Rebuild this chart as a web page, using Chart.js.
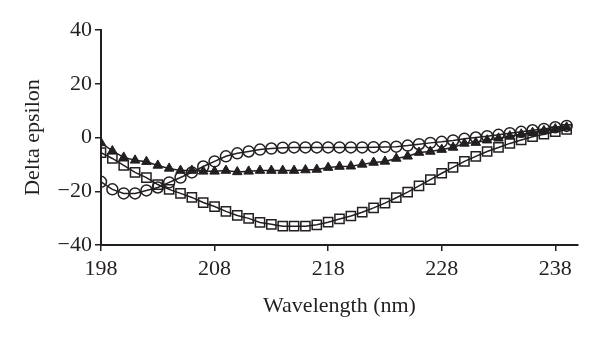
<!DOCTYPE html>
<html>
<head>
<meta charset="utf-8">
<script src="https://cdn.jsdelivr.net/npm/chart.js"></script>
<style>
  body { margin: 0; background: #fff; }
</style>
</head>
<body>
<canvas id="cdChart" width="600" height="343"></canvas>
<script>
// data
var wavelength = [198,199,200,201,202,203,204,205,206,207,208,209,210,211,212,213,214,215,216,217,218,
                  219,220,221,222,223,224,225,226,227,228,229,230,231,232,233,234,235,236,237,238,239];

var circles = [-16.5,-19.3,-20.8,-20.8,-19.7,-18.6,-16.7,-14.9,-13,-10.8,-8.9,-7,-5.9,-5.2,-4.5,-4.1,-3.8,-3.7,-3.7,-3.7,-3.7,
               -3.7,-3.7,-3.7,-3.6,-3.5,-3.4,-3,-2.5,-2,-1.6,-1.1,-0.5,0,0.5,1,1.6,2.1,2.7,3.2,3.8,4.3];

var triangles = [-2,-5,-7.4,-8.5,-9,-10.4,-11.5,-12.3,-12.3,-12.6,-12.6,-12.3,-12.8,-12.6,-12.3,-12.3,-12.3,-12.3,-12.1,-11.9,-11.2,
                 -10.8,-10.7,-10,-9.3,-8.9,-7.8,-7,-5.6,-5.2,-4.5,-3.7,-2.2,-1.9,-1,-0.3,0.5,1.2,1.8,2.5,3.2,3.8];

var squares = [-5.6,-7.8,-10.4,-13,-14.9,-17.5,-19.3,-20.8,-22.3,-24.2,-25.7,-27.5,-29,-30.1,-31.6,-32.3,-33,-33,-33,-32.5,-31.5,
               -30.3,-29.2,-27.8,-26.2,-24.4,-22.4,-20.3,-18,-15.7,-13.3,-11.1,-8.9,-7,-5.2,-3.7,-2.2,-0.9,0.3,1.2,2.2,3];

var xTicks = [198, 208, 218, 228, 238];
var yTicks = [-40, -20, 0, 20, 40];

function pts(vals) {
  return vals.map(function (v, i) { return { x: wavelength[i], y: v }; });
}

var ink = '#231f20';
var serif = "'Liberation Serif', 'DejaVu Serif', serif";

var ctx = document.getElementById('cdChart').getContext('2d');
var myChart = new Chart(ctx, {
  type: 'line',
  data: {
    datasets: [
      {
        data: pts(triangles),
        borderColor: ink, borderWidth: 1.5,
        pointStyle: 'triangle', pointRadius: 5.5,
        pointBackgroundColor: ink, pointBorderColor: ink, pointBorderWidth: 1
      },
      {
        data: pts(circles),
        borderColor: ink, borderWidth: 1.5,
        pointStyle: 'circle', pointRadius: 5.5,
        pointBackgroundColor: 'rgba(0,0,0,0)', pointBorderColor: ink, pointBorderWidth: 1.5
      },
      {
        data: pts(squares),
        borderColor: ink, borderWidth: 1.5,
        pointStyle: 'rect', pointRadius: 6.5,
        pointBackgroundColor: 'rgba(0,0,0,0)', pointBorderColor: ink, pointBorderWidth: 1.5
      }
    ]
  },
  options: {
    responsive: false,
    animation: false,
    layout: { padding: { top: 30, right: 22, left: 0, bottom: 0 } },
    plugins: { legend: { display: false }, tooltip: { enabled: false } },
    elements: { line: { tension: 0 } },
    scales: {
      x: {
        type: 'linear',
        min: 198, max: 240,
        afterFit: function (s) { s.height = 98; },
        afterBuildTicks: function (s) { s.ticks = xTicks.map(function (v) { return { value: v }; }); },
        border: { color: ink, width: 2 },
        grid: { drawOnChartArea: false, color: ink, lineWidth: 1.5, tickLength: 6 },
        ticks: { color: ink, padding: 5, maxRotation: 0, font: { family: serif, size: 22 } },
        title: { display: true, text: 'Wavelength (nm)', color: ink,
                 font: { family: serif, size: 22 }, padding: { top: 0, bottom: 24 } }
      },
      y: {
        min: -40, max: 40,
        afterFit: function (s) { s.width = 101; },
        afterBuildTicks: function (s) { s.ticks = yTicks.map(function (v) { return { value: v }; }); },
        border: { color: ink, width: 2 },
        grid: { drawOnChartArea: false, color: ink, lineWidth: 1.5, tickLength: 6 },
        ticks: { color: ink, padding: 3, font: { family: serif, size: 22 },
                 callback: function (v) { return v < 0 ? '\u2212' + Math.abs(v) : v; } },
        title: { display: true, text: 'Delta epsilon', color: ink,
                 font: { family: serif, size: 22 }, padding: { top: 20, bottom: 0 } }
      }
    }
  }
});
</script>
</body>
</html>
